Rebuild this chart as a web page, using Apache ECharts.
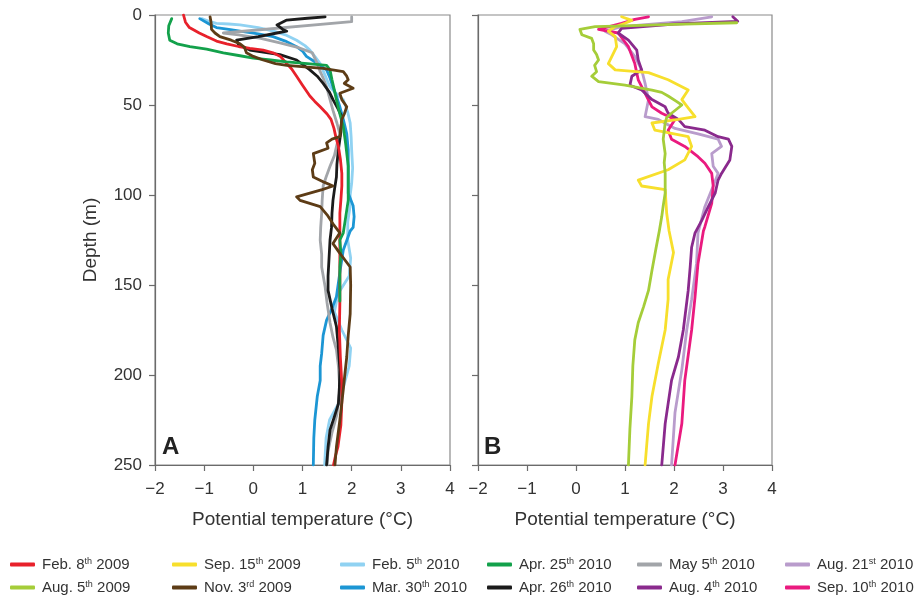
<!DOCTYPE html>
<html>
<head>
<meta charset="utf-8">
<script src="https://cdn.jsdelivr.net/npm/echarts@6/dist/echarts.min.js"></script>
<style>html,body{margin:0;padding:0;background:#fff}#c{width:917px;height:600px}</style>
</head>
<body>
<div id="c"></div>
<script>
// ---- data: [potential temperature (°C), depth (m)] ----
const feb09 = [[-1.42,0],[-1.38,4],[-1.30,7],[-1.10,10],[-0.95,12],[-0.75,14.5],[-0.54,16],[-0.3,17.5],[-0.07,18.5],[0.2,19.5],[0.40,21],[0.55,23],[0.68,27],[0.78,30],[0.88,34],[1.0,39],[1.15,45],[1.25,48],[1.36,51],[1.50,55],[1.58,58],[1.64,63],[1.68,68],[1.73,73],[1.77,80],[1.80,88],[1.80,95],[1.78,103],[1.76,110],[1.76,120],[1.76,135],[1.76,150],[1.76,160],[1.75,175],[1.77,190],[1.80,205],[1.80,215],[1.78,228],[1.72,240],[1.67,245],[1.63,250]];
const apr25_10 = [[-1.66,2],[-1.72,6],[-1.73,10],[-1.70,14],[-1.55,16],[-1.29,17.6],[-0.95,19],[-0.61,21],[-0.3,22.5],[0.0,24],[0.35,25],[0.68,26],[1.1,27],[1.49,28],[1.56,30.5],[1.60,36],[1.65,42],[1.69,47],[1.75,54],[1.83,62],[1.88,72],[1.93,84],[1.93,95],[1.93,103],[1.88,112],[1.83,121],[1.76,125],[1.78,132],[1.76,140],[1.76,150],[1.76,159]];
const feb05_10 = [[-1.05,2],[-0.9,3.5],[-0.75,4.6],[-0.5,5],[-0.27,5.5],[0.1,7],[0.41,9],[0.65,11],[0.88,14],[1.05,17],[1.15,19.5],[1.25,23],[1.36,27],[1.45,33],[1.56,40],[1.70,44],[1.83,47],[1.92,54],[1.97,60],[1.99,68],[2.0,75],[2.02,85],[2.0,93.5],[1.97,100],[1.97,106],[1.92,115],[1.92,125],[1.98,135],[1.95,145],[1.72,155],[1.65,165],[1.80,175],[1.98,185],[1.95,195],[1.85,205],[1.75,215],[1.55,225],[1.48,235],[1.45,250]];
const mar30_10 = [[-1.09,2],[-0.9,5],[-0.75,7],[-0.5,8],[-0.27,9],[0.1,10.5],[0.40,12],[0.65,14.5],[0.88,17.6],[1.0,20],[1.08,23],[1.25,26],[1.49,30.5],[1.56,35],[1.62,40],[1.70,46],[1.76,51],[1.83,58],[1.90,66],[1.93,75],[1.93,84],[1.93,92],[1.93,99],[2.03,106],[2.05,112],[2.03,118],[1.97,120],[1.83,130.5],[1.76,143],[1.69,156.5],[1.60,163],[1.49,169.5],[1.42,178],[1.39,188],[1.36,195],[1.36,203],[1.30,212],[1.25,225],[1.23,235],[1.22,250]];
const may05_10 = [[2.0,1],[2.0,3.7],[-0.61,10],[-0.3,11],[0.15,13],[0.54,15.5],[0.9,18],[1.2,21],[1.25,24],[1.30,27],[1.36,31.5],[1.42,35],[1.49,40],[1.56,47],[1.62,53],[1.70,60],[1.76,66],[1.70,72],[1.65,78],[1.56,84],[1.48,90],[1.42,95],[1.40,103],[1.39,110],[1.37,118],[1.36,125],[1.39,133],[1.39,140],[1.46,151],[1.50,160],[1.56,171],[1.62,179],[1.69,186],[1.73,195],[1.76,208],[1.70,222],[1.60,232],[1.52,242],[1.50,250]];
const apr26_10 = [[1.46,1],[1.1,1.8],[0.68,2.8],[0.48,5.5],[0.60,8],[0.68,9],[0.48,10],[0.1,12],[-0.34,14],[-0.30,16.5],[-0.07,19.5],[0.3,21],[0.54,22],[0.88,25],[1.15,30.5],[1.30,34],[1.42,38],[1.55,43],[1.62,47],[1.72,52],[1.80,56.5],[1.78,65],[1.73,75],[1.70,83],[1.69,90],[1.65,97],[1.62,103],[1.60,110],[1.59,118],[1.56,125],[1.54,135],[1.52,145],[1.52,153],[1.60,163],[1.69,173],[1.73,185],[1.76,197],[1.75,207],[1.73,216],[1.65,223],[1.56,230.5],[1.52,240],[1.49,250]];
const nov03_09 = [[-0.88,1],[-0.86,4],[-0.85,8],[-0.78,10],[-0.68,12],[-0.45,14],[-0.27,16],[-0.18,18],[-0.14,21],[0.0,23],[0.20,25],[0.45,27],[0.68,28],[1.1,29],[1.42,29.6],[1.83,31.5],[1.90,34],[1.93,36],[1.85,38],[2.03,40.7],[1.76,43.5],[1.80,47],[1.90,51],[1.85,55],[1.80,58],[1.78,63],[1.76,67.6],[1.60,69],[1.49,71],[1.52,74],[1.22,77],[1.25,82.4],[1.20,86],[1.22,90],[1.45,93],[1.62,95],[1.40,97],[0.88,101],[0.95,103],[1.36,106.5],[1.50,111],[1.62,116],[1.76,121],[1.62,127],[1.75,132],[1.97,140],[1.98,150],[1.97,166],[1.93,178],[1.90,190],[1.86,200],[1.83,208],[1.76,225],[1.69,240],[1.66,250]];
const aug05_09 = [[3.28,4.3],[2.0,5.2],[1.0,6],[0.39,6.5],[0.08,8],[0.05,9],[0.12,11],[0.32,13],[0.36,16],[0.36,19.5],[0.42,22],[0.46,25],[0.38,28],[0.42,31.5],[0.32,34],[0.46,37],[1.0,39],[1.3,40.5],[1.55,41.7],[1.75,43],[1.88,45],[2.05,48],[2.16,50],[1.95,54.6],[1.85,57],[1.82,60],[1.78,69],[1.82,77],[1.80,82],[1.82,88],[1.82,99],[1.78,106],[1.75,112],[1.70,120],[1.63,130],[1.55,142],[1.48,153],[1.38,162],[1.27,171],[1.20,180.5],[1.16,195],[1.14,212],[1.10,230],[1.07,250]];
const sep15_09 = [[0.93,1],[1.14,3],[1.0,4.6],[0.80,6.5],[0.66,9],[0.80,12],[0.83,17.6],[0.75,22],[0.66,27],[0.80,30.5],[1.48,32],[1.88,36],[2.1,39],[2.29,41.7],[2.16,47],[2.30,52],[2.43,56.5],[2.09,58],[1.55,60],[1.61,64],[2.29,67.6],[2.36,73],[2.22,80.5],[1.88,86],[1.27,91.7],[1.34,95],[1.82,97],[1.85,110],[1.90,120],[1.99,132],[1.88,147],[1.88,158],[1.82,175],[1.68,193.5],[1.55,212],[1.48,227],[1.44,240],[1.41,250]];
const aug04_10 = [[3.2,1],[3.3,3.5],[2.0,5],[0.93,7.4],[0.86,10],[1.07,14],[1.24,19.5],[1.27,25],[1.34,30.5],[1.14,34],[1.10,39],[1.34,41.7],[1.55,47],[1.82,51],[1.88,54.6],[2.09,58],[2.22,62],[2.63,64],[2.90,67.6],[3.11,69],[3.18,73],[3.14,80.5],[2.97,88],[2.90,91.7],[2.84,99],[2.70,106.5],[2.57,114],[2.43,121],[2.36,129],[2.33,140],[2.29,153],[2.19,175],[2.09,190],[1.95,203],[1.82,227],[1.75,250]];
const aug21_10 = [[2.77,1],[2.16,3.7],[0.93,6.5],[0.59,9],[0.73,11],[1.0,16],[1.20,23],[1.34,30.5],[1.41,38],[1.48,47],[1.41,56.5],[1.68,58],[2.02,63],[2.49,66],[2.90,69],[2.97,73],[2.77,77],[2.80,84],[2.90,88],[2.80,95],[2.63,106.5],[2.49,121],[2.46,138],[2.36,158],[2.26,175],[2.16,197],[2.02,221],[1.95,250]];
const sep10_10 = [[1.48,1],[1.20,2.4],[0.93,4.6],[0.46,8],[0.86,10],[1.07,17.6],[1.20,27],[1.27,36],[1.41,43.5],[1.55,51],[1.75,54.6],[2.02,58],[1.88,64],[1.95,69],[2.22,73],[2.49,78.7],[2.63,82.4],[2.77,88],[2.80,95],[2.77,104.6],[2.63,117.6],[2.60,120],[2.49,138],[2.43,156.5],[2.36,175],[2.22,203],[2.16,227],[2.02,250]];

const xTicks = [-2, -1, 0, 1, 2, 3, 4];
const yTicks = [0, 50, 100, 150, 200, 250];

// legend labels (rich superscript), panel and colour
const seriesDefs = [
  {name:'Feb. 8{s|th} 2009',  data:feb09,    color:'#e8212b', panel:0},
  {name:'Aug. 5{s|th} 2009',  data:aug05_09, color:'#a5cd39', panel:1},
  {name:'Sep. 15{s|th} 2009', data:sep15_09, color:'#f7df2c', panel:1},
  {name:'Nov. 3{s|rd} 2009',  data:nov03_09, color:'#5d3c16', panel:0},
  {name:'Feb. 5{s|th} 2010',  data:feb05_10, color:'#90d2f2', panel:0},
  {name:'Mar. 30{s|th} 2010', data:mar30_10, color:'#1c96d4', panel:0},
  {name:'Apr. 25{s|th} 2010', data:apr25_10, color:'#13a14b', panel:0},
  {name:'Apr. 26{s|th} 2010', data:apr26_10, color:'#1b1b1b', panel:0},
  {name:'May 5{s|th} 2010',   data:may05_10, color:'#a2a5a9', panel:0},
  {name:'Aug. 4{s|th} 2010',  data:aug04_10, color:'#8a2a8d', panel:1},
  {name:'Aug. 21{s|st} 2010', data:aug21_10, color:'#b99ccc', panel:1},
  {name:'Sep. 10{s|th} 2010', data:sep10_10, color:'#ea1a7f', panel:1}
];
const drawOrder = ['Feb. 5{s|th} 2010','Mar. 30{s|th} 2010','May 5{s|th} 2010','Apr. 26{s|th} 2010','Feb. 8{s|th} 2009','Apr. 25{s|th} 2010','Nov. 3{s|rd} 2009',
  'Aug. 21{s|st} 2010','Sep. 10{s|th} 2010','Aug. 4{s|th} 2010','Sep. 15{s|th} 2009','Aug. 5{s|th} 2009'];

const FONT = "'Liberation Sans', Arial, Helvetica, sans-serif";
const chart = echarts.init(document.getElementById('c'));

const axisCommon = {
  axisLine:{show:true, onZero:false, lineStyle:{color:'#6b6b6b', width:1.2}},
  axisTick:{show:true, inside:false, length:6, lineStyle:{color:'#6b6b6b', width:1.2}},
  splitLine:{show:false}
};
const minusFmt = v => String(v).replace('-', '\u2212');

const grids = [
  {left:155, top:15, width:295, height:450, show:true, borderColor:'#8a8a8a', borderWidth:1.2},
  {left:478, top:15, width:294, height:450, show:true, borderColor:'#8a8a8a', borderWidth:1.2}
];
const xAxes = [0,1].map(i => Object.assign({}, axisCommon, {
  type:'value', gridIndex:i, min:xTicks[0], max:xTicks[xTicks.length-1], interval:1,
  name:'Potential temperature (\u00b0C)', nameLocation:'middle', nameGap:45,
  nameTextStyle:{fontFamily:FONT, fontSize:19, color:'#333'},
  axisLabel:{fontFamily:FONT, fontSize:17, color:'#333', margin:16, formatter:minusFmt}
}));
const yAxes = [0,1].map(i => Object.assign({}, axisCommon, {
  type:'value', gridIndex:i, min:yTicks[0], max:yTicks[yTicks.length-1], interval:50, inverse:true,
  name: i===0 ? 'Depth (m)' : '', nameLocation:'middle', nameGap:55, nameRotate:90,
  nameTextStyle:{fontFamily:FONT, fontSize:19, color:'#333'},
  axisLabel:{show:i===0, fontFamily:FONT, fontSize:17, color:'#333', margin:13}
}));

const series = drawOrder.map(n => {
  const d = seriesDefs.find(s => s.name === n);
  return {
    name:d.name, type:'line', xAxisIndex:d.panel, yAxisIndex:d.panel,
    data:d.data, showSymbol:false, symbol:'none', smooth:false,
    lineStyle:{color:d.color, width:2.8, cap:'round', join:'round'},
    itemStyle:{color:d.color}, emphasis:{disabled:true}, animation:false, z:2
  };
});

const colX = [10, 172, 340, 487, 637, 785];
const rowY = [557, 580];
const legends = seriesDefs.map((d, i) => ({
  data:[d.name], left:colX[Math.floor(i/2)], top:rowY[i%2], orient:'horizontal',
  icon:'roundRect', itemWidth:25, itemHeight:4, itemGap:0, padding:0,
  selectedMode:false,
  itemStyle:{color:d.color},
  textStyle:{fontFamily:FONT, fontSize:15, color:'#333', padding:[0,0,0,2],
    rich:{s:{fontFamily:FONT, fontSize:9, color:'#333', verticalAlign:'top', padding:[0,0,6,0]}}}
}));

chart.setOption({
  animation:false,
  grid:grids, xAxis:xAxes, yAxis:yAxes, series:series, legend:legends,
  graphic:[
    {type:'text', left:162, top:435, style:{text:'A', fontFamily:FONT, fontSize:24, fontWeight:'bold', fill:'#222'}},
    {type:'text', left:484, top:435, style:{text:'B', fontFamily:FONT, fontSize:24, fontWeight:'bold', fill:'#222'}}
  ]
});
</script>
</body>
</html>
